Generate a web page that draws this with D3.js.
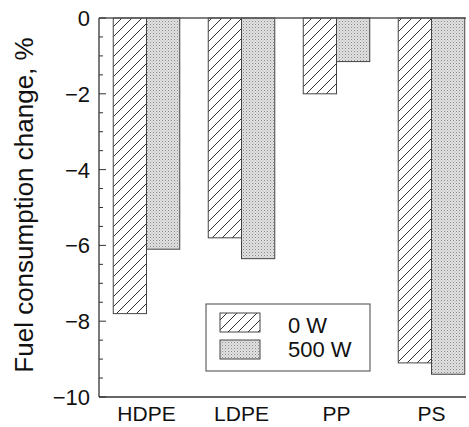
<!DOCTYPE html>
<html>
<head>
<meta charset="utf-8">
<script src="https://cdn.jsdelivr.net/npm/d3@7"></script>
<style>
  body { margin: 0; background: #fff; overflow: hidden; }
  svg { display: block; }
  text { font-family: "Liberation Sans", Arial, sans-serif; fill: #111; }
</style>
</head>
<body>
<script>
// data
var categories = ["HDPE", "LDPE", "PP", "PS"];
var seriesNames = ["0 W", "500 W"];
var power0W = [-7.8, -5.8, -2.0, -9.1];
var power500W = [-6.1, -6.35, -1.15, -9.4];
var yTicks = [0, -2, -4, -6, -8, -10];

var W = 469, H = 427;
var plotLeft = 99, plotRight = 466, plotTop = 18, plotBottom = 397;

var svg = d3.select("body").append("svg")
    .attr("width", W)
    .attr("height", H);

// patterns
var defs = svg.append("defs");
var hatch = defs.append("pattern")
    .attr("id", "hatch")
    .attr("patternUnits", "userSpaceOnUse")
    .attr("width", 10).attr("height", 10);
hatch.append("rect").attr("width", 10).attr("height", 10).attr("fill", "#fff");
hatch.append("path")
    .attr("d", "M0,10 L10,0 M-5,5 L5,-5 M5,15 L15,5")
    .attr("stroke", "#333").attr("stroke-width", 1);

var dots = defs.append("pattern")
    .attr("id", "dots")
    .attr("patternUnits", "userSpaceOnUse")
    .attr("width", 3).attr("height", 3);
dots.append("rect").attr("width", 3).attr("height", 3).attr("fill", "#e2e2e2");
dots.append("rect").attr("width", 1).attr("height", 1).attr("fill", "#888");
dots.append("rect").attr("x", 1.5).attr("y", 1.5).attr("width", 1).attr("height", 1).attr("fill", "#aaa");

// scales
var x = d3.scaleBand().domain(categories).range([plotLeft, plotLeft + 4 * 95]).paddingInner(0.3).paddingOuter(0.15);
var xSub = d3.scaleBand().domain(seriesNames).range([0, x.bandwidth()]);
var y = d3.scaleLinear().domain([-10, 0]).range([plotBottom, plotTop]);

var fills = ["url(#hatch)", "url(#dots)"];
var seriesVals = [power0W, power500W];

// bars
seriesNames.forEach(function(s, si) {
    svg.selectAll(".bar" + si)
        .data(categories)
        .enter()
        .append("rect")
        .attr("x", function(d) { return x(d) + xSub(s); })
        .attr("y", y(0))
        .attr("width", xSub.bandwidth())
        .attr("height", function(d, i) { return y(seriesVals[si][i]) - y(0); })
        .attr("fill", fills[si])
        .attr("stroke", "#444")
        .attr("stroke-width", 1);
});

// axes frame: left, top, bottom
svg.append("line").attr("x1", plotLeft).attr("x2", plotLeft).attr("y1", plotTop).attr("y2", plotBottom)
    .attr("stroke", "#333").attr("stroke-width", 1.3);
svg.append("line").attr("x1", plotLeft).attr("x2", plotRight).attr("y1", plotTop).attr("y2", plotTop)
    .attr("stroke", "#555").attr("stroke-width", 1.3);
svg.append("line").attr("x1", plotLeft).attr("x2", plotRight).attr("y1", plotBottom).attr("y2", plotBottom)
    .attr("stroke", "#333").attr("stroke-width", 1.3);

// y ticks (inward) + labels
var minor = d3.range(-10, 0.01, 0.5);
svg.selectAll(".ytick")
    .data(minor)
    .enter()
    .append("line")
    .attr("x1", plotLeft)
    .attr("x2", function(d) { return plotLeft + (Math.abs(d % 2) < 0.01 ? 7 : 4); })
    .attr("y1", function(d) { return y(d); })
    .attr("y2", function(d) { return y(d); })
    .attr("stroke", "#333");

svg.selectAll(".ylab")
    .data(yTicks)
    .enter()
    .append("text")
    .attr("x", plotLeft - 9)
    .attr("y", function(d) { return y(d) + 8; })
    .attr("text-anchor", "end")
    .attr("font-size", 22)
    .text(function(d) { return d === 0 ? "0" : "\u2212" + Math.abs(d); });

// category labels
svg.selectAll(".xlab")
    .data(categories)
    .enter()
    .append("text")
    .attr("x", function(d) { return x(d) + x.bandwidth() / 2; })
    .attr("y", 421)
    .attr("text-anchor", "middle")
    .attr("font-size", 21)
    .text(function(d) { return d; });

// y title
svg.append("text")
    .attr("transform", "translate(33,205) rotate(-90)")
    .attr("text-anchor", "middle")
    .attr("font-size", 26)
    .text("Fuel consumption change, %");

// legend
var lg = svg.append("g");
lg.append("rect").attr("x", 206).attr("y", 304).attr("width", 164).attr("height", 67)
    .attr("fill", "#fff").attr("stroke", "#444").attr("stroke-width", 1);
seriesNames.forEach(function(s, i) {
    lg.append("rect")
        .attr("x", 220).attr("y", 313 + i * 27)
        .attr("width", 40).attr("height", 19)
        .attr("fill", fills[i]).attr("stroke", "#444");
    lg.append("text")
        .attr("x", 288).attr("y", 333 + i * 24)
        .attr("font-size", 22)
        .text(s);
});
</script>
</body>
</html>
